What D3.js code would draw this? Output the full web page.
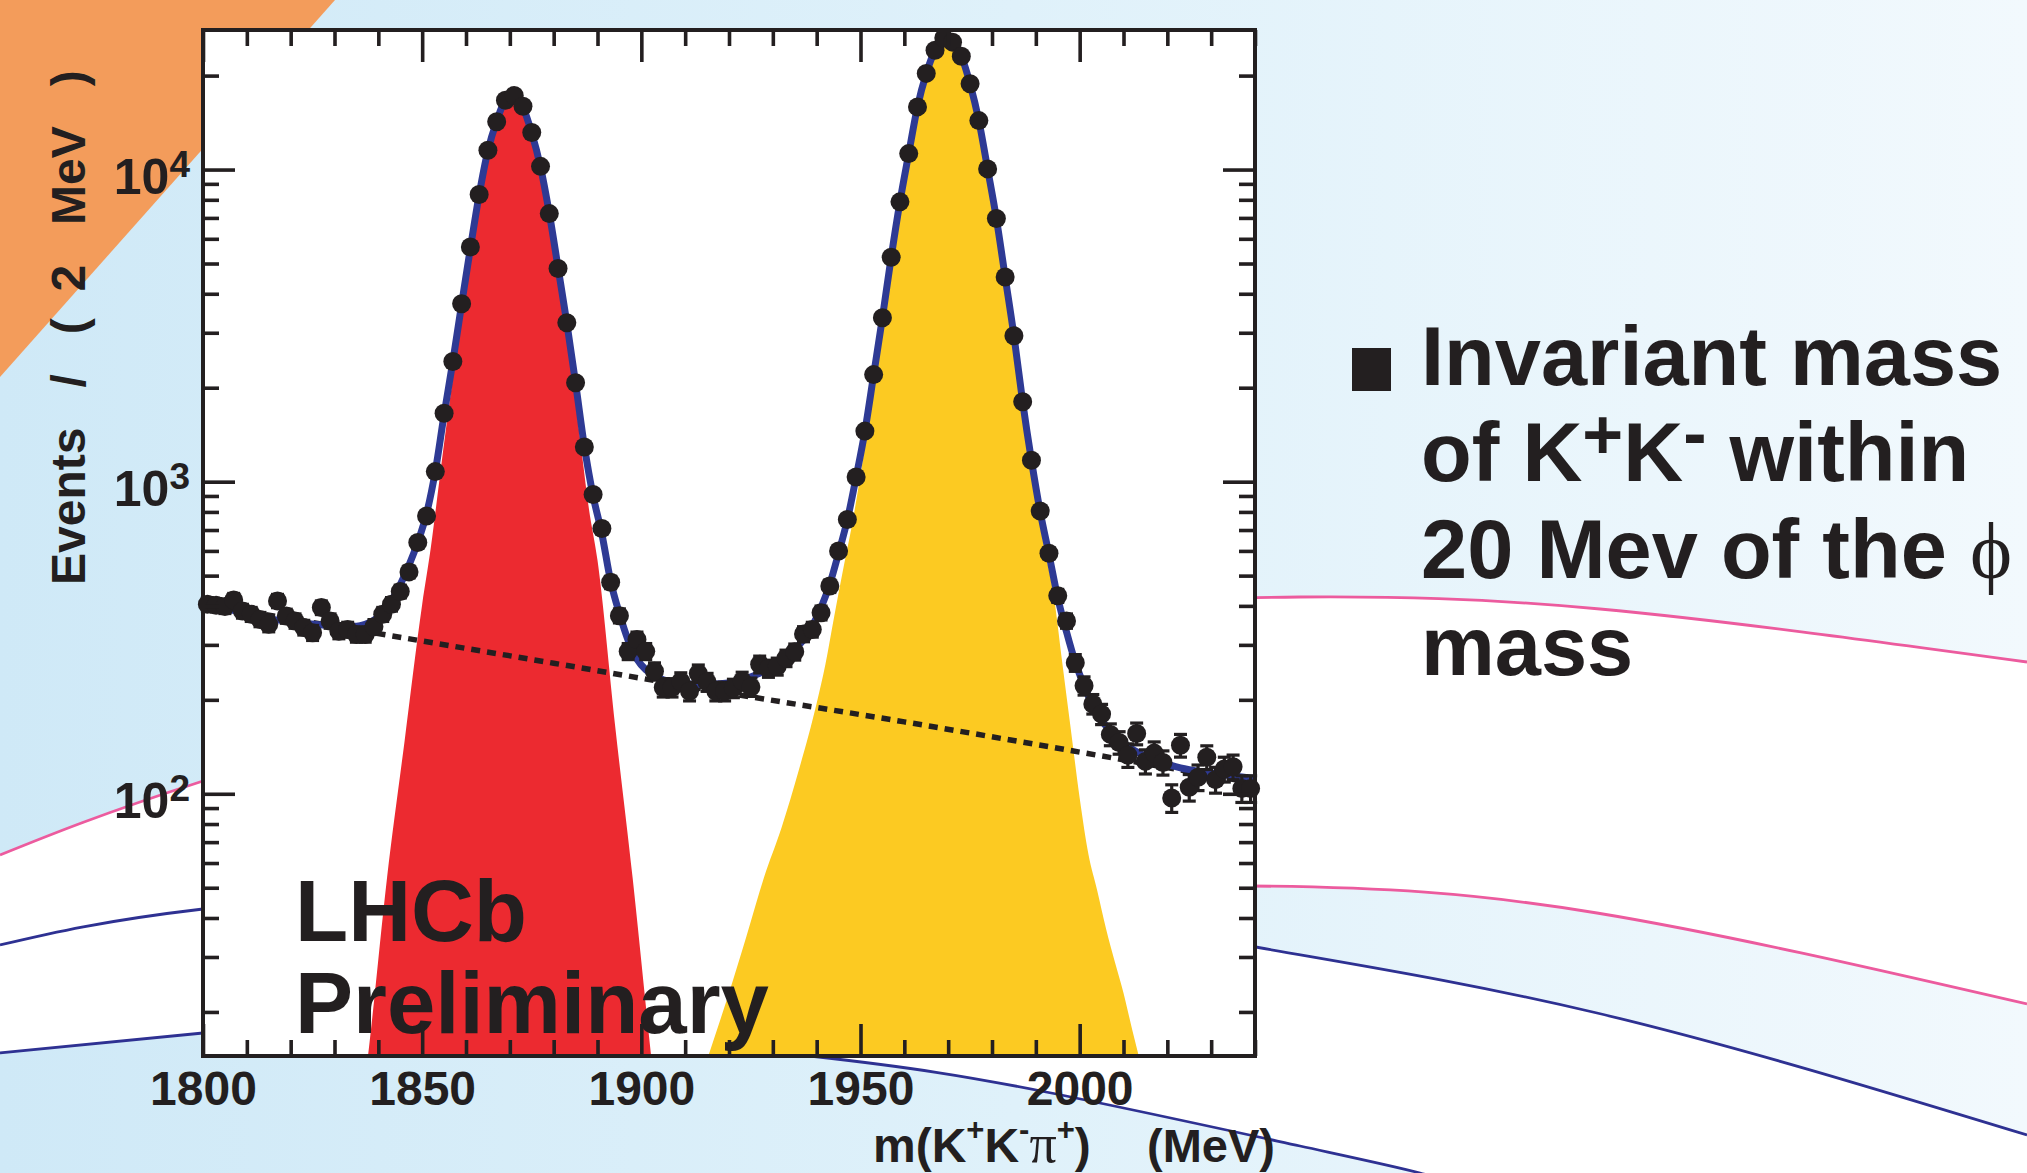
<!DOCTYPE html>
<html>
<head>
<meta charset="utf-8">
<script src="https://cdn.jsdelivr.net/npm/d3@7"></script>
<style>
  html, body { margin: 0; padding: 0; background: #fff; overflow: hidden; }
  svg { display: block; }
  text { font-family: "Liberation Sans", Arial, Helvetica, sans-serif; font-weight: bold; fill: #231f20; }
  .serif { font-family: "Liberation Serif", "Times New Roman", serif; font-weight: normal; }
</style>
</head>
<body>
<div id="slide"></div>
<script>
// histogram: 2 MeV bins from 1800 to 2040
const massMin = 1800;
const massMax = 2040;
const binWidth = 2;
const counts = [
  405, 402, 398, 418, 385, 376, 362, 349, 415, 371,
  358, 341, 328, 395, 358, 332, 336, 324, 324, 343,
  376, 405, 445, 514, 638, 776, 1077, 1656, 2427, 3714,
  5650, 8318, 11530, 14220, 16680, 17260, 15960, 13150, 10240, 7226,
  4818, 3228, 2076, 1291, 910, 708, 476, 372, 286, 312,
  286, 247, 219, 219, 229, 213, 243, 228, 213, 213,
  218, 230, 220, 260, 252, 256, 272, 285, 325, 336,
  380, 463, 600, 757, 1035, 1452, 2203, 3350, 5240, 7880,
  11250, 15880, 20330, 24100, 26400, 25600, 23070, 18840, 14350, 10050,
  6966, 4528, 2936, 1803, 1172, 805, 590, 431, 358, 263,
  222, 194, 180, 155, 146, 133, 156, 127, 135, 126,
  97, 143, 105, 113, 131, 111, 120, 122, 104, 104
];

// total fit (blue line)
const fitMass = [1800, 1804, 1808, 1812, 1816, 1820, 1824, 1828, 1832, 1835, 1837, 1839, 1841, 1843, 1845, 1847,
  1849, 1851, 1853, 1855, 1857, 1859, 1861, 1863, 1865, 1867, 1869, 1870, 1871, 1873, 1875, 1877, 1879, 1881,
  1883, 1885, 1887, 1889, 1891, 1893, 1895, 1897, 1899, 1901, 1903, 1905, 1907, 1910, 1914, 1918, 1922, 1926,
  1930, 1934, 1937, 1939, 1941, 1943, 1945, 1947, 1949, 1951, 1953, 1955, 1957, 1959, 1961, 1963, 1965, 1967,
  1969, 1970, 1971, 1973, 1975, 1977, 1979, 1981, 1983, 1985, 1987, 1989, 1991, 1993, 1995, 1997, 1999, 2001,
  2003, 2005, 2008, 2011, 2014, 2018, 2023, 2029, 2035, 2040];
const fitCounts = [402, 394, 384, 372, 362, 356, 351, 347, 345, 344, 349, 360, 381, 416, 468, 540,
  640, 790, 1080, 1640, 2430, 3700, 5600, 8300, 11500, 14300, 16700, 17050, 16900, 15800, 13100, 10200, 7250, 4850,
  3230, 2070, 1300, 900, 680, 480, 378, 310, 270, 250, 239, 232, 228, 225, 224, 225, 230, 240,
  256, 282, 312, 345, 395, 470, 590, 755, 1035, 1450, 2200, 3350, 5240, 7880, 11250, 15900, 20300, 24100,
  26400, 26600, 26100, 23100, 18800, 14350, 10050, 6970, 4530, 2940, 1800, 1170, 800, 585, 425, 330, 264, 222,
  192, 172, 154, 142, 134, 127, 121, 117, 114, 112];

// combinatorial background (dotted)
const bkgMass = [1800, 1840, 1880, 1920, 1960, 2000, 2040];
const bkgCounts = [405, 326, 262, 210, 170, 136, 108];

// D+ signal (red)
const dplusMass = [1834, 1838, 1842, 1846, 1850, 1852, 1854, 1856, 1858, 1860, 1862, 1864, 1866, 1868, 1870,
  1872, 1874, 1876, 1878, 1880, 1882, 1884, 1886, 1888, 1890, 1894, 1898, 1902, 1906];
const dplusCounts = [5.6, 16, 54, 148, 404, 619, 1029, 1696, 2700, 4258, 6527, 9482, 12539, 15172, 16771,
  16064, 14113, 11288, 8332, 5664, 3695, 2325, 1382, 826, 560, 166, 54, 15.5, 4.7];

// Ds signal (yellow)
const dsMass = [1908, 1912, 1916, 1920, 1924, 1928, 1932, 1936, 1940, 1942, 1944, 1946, 1948, 1950, 1952, 1954,
  1956, 1958, 1960, 1962, 1964, 1966, 1968, 1970, 1972, 1974, 1976, 1978, 1980, 1982, 1984, 1986, 1988, 1990,
  1992, 1994, 1996, 1998, 2000, 2002, 2004, 2006, 2008, 2010, 2012, 2014, 2016, 2020];
const dsCounts = [7, 10.5, 15.5, 23, 35, 54, 78, 120, 195, 260, 370, 520, 720, 1050, 1610, 2540,
  4020, 6260, 9250, 13200, 17800, 21950, 25050, 26400, 24400, 20700, 16270, 11860, 8220, 5470, 3500, 2150, 1310, 870,
  606, 440, 265, 160, 97, 64, 49, 37, 29, 23, 17.5, 13.5, 10.3, 6];

const xTickLabels = [1800, 1850, 1900, 1950, 2000];
const yTickLabels = [100, 1000, 10000];
const yMin = 14.45;
const yMax = 28000;

const bulletLines = ["Invariant mass", "of K", "20 Mev of the ", "mass"];

const W = 2027, H = 1173;
const ink = "#231f20";
const plotLeft = 203, plotRight = 1255, plotTop = 30, plotBottom = 1056;

const svg = d3.select("#slide").append("svg").attr("width", W).attr("height", H);
const defs = svg.append("defs");

// ---- slide background ----
const bg = defs.append("linearGradient").attr("id", "bg").attr("gradientUnits", "userSpaceOnUse")
  .attr("x1", 0).attr("y1", 0).attr("x2", W).attr("y2", 0);
bg.append("stop").attr("offset", 0).attr("stop-color", "#cfe9f7");
bg.append("stop").attr("offset", 0.5).attr("stop-color", "#dff1fa");
bg.append("stop").attr("offset", 1).attr("stop-color", "#f2f9fd");
svg.append("rect").attr("width", W).attr("height", H).attr("fill", "url(#bg)");

const swoosh = d3.line().curve(d3.curveNatural);
const pinkTop = [[0, 855], [203, 781], [600, 672], [1000, 611], [1300, 597], [1600, 609], [2027, 662]];
const navyMid = [[0, 945], [203, 909], [600, 885], [1000, 905], [1250, 946], [1597, 1013], [2027, 1135]];
const navyLow = [[0, 1053], [203, 1033], [450, 1026], [810, 1056], [1046, 1092], [1300, 1146], [1420, 1173], [1480, 1192]];
const pinkLow = [[800, 892], [1250, 886], [1597, 913], [2027, 1004]];

svg.append("path")
  .attr("d", swoosh(pinkTop) + "L2027,1173" + swoosh(navyLow.slice().reverse()).replace(/^M/, "L") + "Z")
  .attr("fill", "#fff");
defs.append("clipPath").attr("id", "bandClip").append("rect")
  .attr("x", 760).attr("y", 0).attr("width", W - 760).attr("height", H);
svg.append("path")
  .attr("d", swoosh(pinkLow) + swoosh(navyMid.slice().reverse()).replace(/^M/, "L") + "Z")
  .attr("fill", "url(#bg)")
  .attr("clip-path", "url(#bandClip)");

[[pinkTop, "#ec5b9e"], [pinkLow, "#ec5b9e"], [navyMid, "#2e3192"], [navyLow, "#2e3192"]].forEach(([pts, c]) => {
  svg.append("path").attr("d", swoosh(pts)).attr("fill", "none").attr("stroke", c).attr("stroke-width", 2.8);
});

svg.append("path").attr("d", "M0,0L335,0L0,377Z").attr("fill", "#f39c5b");

// ---- chart ----
const x = d3.scaleLinear().domain([massMin, massMax]).range([plotLeft, plotRight]);
const y = d3.scaleLog().domain([yMin, yMax]).range([plotBottom, plotTop]);

const plot = svg.append("g");
plot.append("rect")
  .attr("x", plotLeft).attr("y", plotTop)
  .attr("width", plotRight - plotLeft).attr("height", plotBottom - plotTop)
  .attr("fill", "#fff");

defs.append("clipPath").attr("id", "plotClip").append("rect")
  .attr("x", plotLeft).attr("y", plotTop)
  .attr("width", plotRight - plotLeft).attr("height", plotBottom - plotTop);

const inner = plot.append("g").attr("clip-path", "url(#plotClip)");

const area = d3.area()
  .x(d => x(d[0]))
  .y0(() => y.range()[0])
  .y1(d => y(d[1]))
  .curve(d3.curveMonotoneX);
const line = d3.line()
  .x(d => x(d[0]))
  .y(d => y(d[1]))
  .curve(d3.curveMonotoneX);

inner.append("path").datum(d3.zip(dsMass, dsCounts)).attr("d", area).attr("fill", "#fcca22");
inner.append("path").datum(d3.zip(dplusMass, dplusCounts)).attr("d", area).attr("fill", "#ec2a30");

inner.append("path")
  .datum(d3.zip(bkgMass, bkgCounts))
  .attr("d", line)
  .attr("fill", "none")
  .attr("stroke", ink)
  .attr("stroke-width", 5.5)
  .attr("stroke-dasharray", "9 7");

inner.append("path")
  .datum(d3.zip(fitMass, fitCounts))
  .attr("d", line)
  .attr("fill", "none")
  .attr("stroke", "#2e3a94")
  .attr("stroke-width", 7);

// data points with poisson error bars
const bins = d3.range(massMin + binWidth / 2, massMax, binWidth);
const pts = bins.map((m, i) => ({ m, n: counts[i] }));
const dots = plot.append("g").attr("stroke", ink).attr("fill", ink);
dots.selectAll("line.err").data(pts).join("line")
  .attr("class", "err")
  .attr("x1", d => x(d.m)).attr("x2", d => x(d.m))
  .attr("y1", d => y(d.n - Math.sqrt(d.n))).attr("y2", d => y(d.n + Math.sqrt(d.n)))
  .attr("stroke-width", 3.2);
dots.selectAll("line.capHi").data(pts).join("line")
  .attr("class", "capHi")
  .attr("x1", d => x(d.m) - 6.5).attr("x2", d => x(d.m) + 6.5)
  .attr("y1", d => y(d.n + Math.sqrt(d.n))).attr("y2", d => y(d.n + Math.sqrt(d.n)))
  .attr("stroke-width", 3.2);
dots.selectAll("line.capLo").data(pts).join("line")
  .attr("class", "capLo")
  .attr("x1", d => x(d.m) - 6.5).attr("x2", d => x(d.m) + 6.5)
  .attr("y1", d => y(d.n - Math.sqrt(d.n))).attr("y2", d => y(d.n - Math.sqrt(d.n)))
  .attr("stroke-width", 3.2);
dots.selectAll("circle").data(pts).join("circle")
  .attr("cx", d => x(d.m)).attr("cy", d => y(d.n))
  .attr("r", 9.5)
  .attr("stroke", "none");

// LHCb Preliminary
plot.append("text").attr("x", 295).attr("y", 941).style("font-size", "87px").text("LHCb");
plot.append("text").attr("x", 295).attr("y", 1033).style("font-size", "87px").text("Preliminary");

// ---- axes ----
const xMinor = x.ticks(24).filter(v => !xTickLabels.includes(v));
const yMinor = y.ticks().filter(v => !yTickLabels.includes(v) && v > yMin && v < yMax);

function styleTicks(g) {
  g.select(".domain").remove();
  g.selectAll(".tick line").attr("stroke", ink).attr("stroke-width", 3.6);
}

plot.append("g").attr("transform", `translate(0,${plotBottom})`)
  .call(d3.axisBottom(x).tickValues(xTickLabels).tickSize(-32).tickPadding(15).tickFormat(d3.format("d")))
  .call(styleTicks)
  .call(g => g.selectAll(".tick text").attr("fill", ink).style("font-size", "48px"));
plot.append("g").attr("transform", `translate(0,${plotBottom})`)
  .call(d3.axisBottom(x).tickValues(xMinor).tickSize(-16).tickFormat(""))
  .call(styleTicks);
plot.append("g").attr("transform", `translate(0,${plotTop})`)
  .call(d3.axisTop(x).tickValues(xTickLabels).tickSize(-32).tickFormat(""))
  .call(styleTicks);
plot.append("g").attr("transform", `translate(0,${plotTop})`)
  .call(d3.axisTop(x).tickValues(xMinor).tickSize(-16).tickFormat(""))
  .call(styleTicks);

plot.append("g").attr("transform", `translate(${plotLeft},0)`)
  .call(d3.axisLeft(y).tickValues(yTickLabels).tickSize(-32).tickPadding(13))
  .call(styleTicks)
  .call(g => g.selectAll(".tick text")
    .attr("fill", ink)
    .attr("dy", 24)
    .style("font-size", "50px")
    .text(null)
    .each(function (d) {
      const t = d3.select(this);
      t.append("tspan").text("10");
      t.append("tspan").attr("dy", -17).style("font-size", "37px").text(Math.round(Math.log10(d)));
    }));
plot.append("g").attr("transform", `translate(${plotLeft},0)`)
  .call(d3.axisLeft(y).tickValues(yMinor).tickSize(-16).tickFormat(""))
  .call(styleTicks);
plot.append("g").attr("transform", `translate(${plotRight},0)`)
  .call(d3.axisRight(y).tickValues(yTickLabels).tickSize(-32).tickFormat(""))
  .call(styleTicks);
plot.append("g").attr("transform", `translate(${plotRight},0)`)
  .call(d3.axisRight(y).tickValues(yMinor).tickSize(-16).tickFormat(""))
  .call(styleTicks);

plot.append("rect")
  .attr("x", plotLeft).attr("y", plotTop)
  .attr("width", plotRight - plotLeft).attr("height", plotBottom - plotTop)
  .attr("fill", "none").attr("stroke", ink).attr("stroke-width", 4);

// axis titles
svg.append("text")
  .attr("transform", "translate(85,585) rotate(-90)")
  .style("font-size", "48px")
  .style("white-space", "pre")
  .text("Events   /   (  2   MeV   )");

const xt = svg.append("text").attr("x", 873).attr("y", 1162).style("font-size", "48px");
xt.append("tspan").text("m(K");
xt.append("tspan").attr("dy", -22).style("font-size", "31px").text("+");
xt.append("tspan").attr("dy", 22).text("K");
xt.append("tspan").attr("dy", -22).style("font-size", "31px").text("-");
xt.append("tspan").attr("dy", 22).attr("class", "serif").style("font-size", "54px").text("π");
xt.append("tspan").attr("dy", -22).style("font-size", "31px").text("+");
xt.append("tspan").attr("dy", 22).text(")");
svg.append("text").attr("x", 1275).attr("y", 1162).attr("text-anchor", "end")
  .style("font-size", "47px").text("(MeV)");

// ---- bullet text ----
svg.append("rect").attr("x", 1352).attr("y", 348).attr("width", 39).attr("height", 43).attr("fill", ink);
const bx = 1421;
const baselines = [385, 481, 578, 675];
const bt = (i) => svg.append("text").attr("x", bx).attr("y", baselines[i]).style("font-size", "83px");
bt(0).text(bulletLines[0]);
const l2 = bt(1).style("white-space", "pre");
l2.append("tspan").text(bulletLines[1]);
l2.append("tspan").attr("dy", -22).style("font-size", "70px").text("+");
l2.append("tspan").attr("dy", 22).text("K");
l2.append("tspan").attr("dy", -24).style("font-size", "70px").text("-");
l2.append("tspan").attr("dy", 24).text(" within");
const l3 = bt(2).style("white-space", "pre");
l3.append("tspan").text(bulletLines[2]);
l3.append("tspan").attr("class", "serif").style("font-size", "80px").text("ϕ");
bt(3).text(bulletLines[3]);
</script>
</body>
</html>
